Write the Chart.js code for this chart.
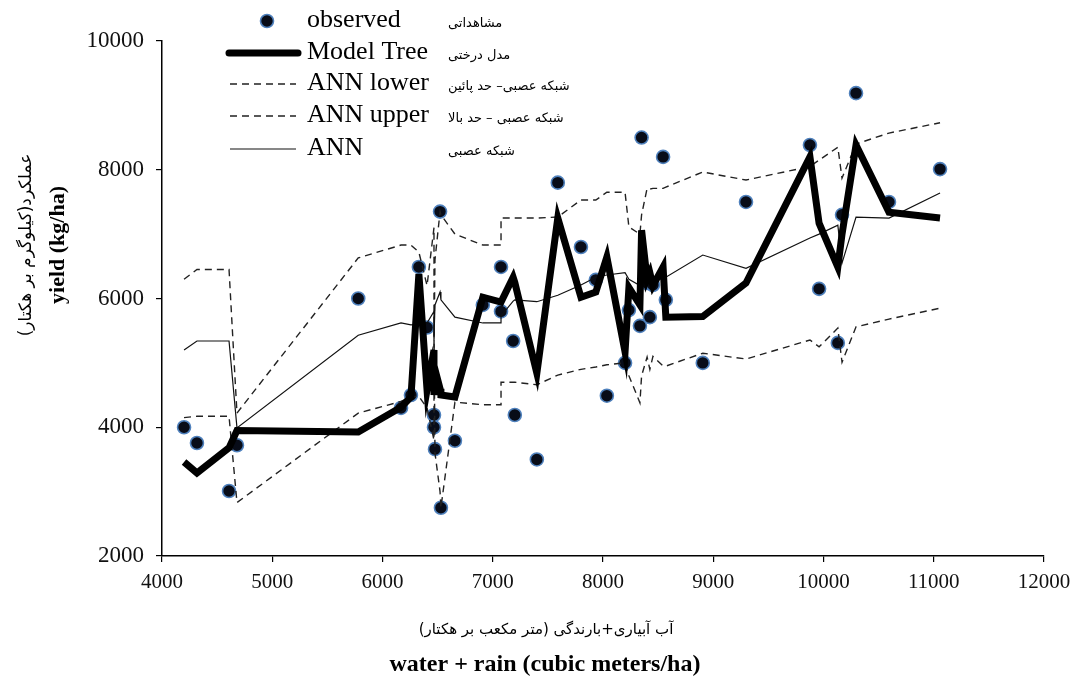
<!DOCTYPE html>
<html>
<head>
<meta charset="utf-8">
<script src="https://cdn.jsdelivr.net/npm/chart.js@4.4.1/dist/chart.umd.min.js"></script>
<style>
  html, body { margin: 0; padding: 0; background: #fff; }
  #wrap { width: 1085px; height: 684px; position: relative; }
</style>
</head>
<body>
<div id="wrap"><canvas id="chart"></canvas></div>
<script>
// observed yield against water + rain
const obsX = [4200, 4317, 4608, 4680, 5780, 6168, 6258, 6330, 6404, 6467, 6467, 6476, 6530, 6522,
  6657, 6910, 7075, 7075, 7185, 7200, 7400, 7590, 7800, 7935, 8035, 8200, 8235, 8335, 8350,
  8400, 8425, 8453, 8545, 8570, 8905, 9297, 9877, 9960, 10130, 10168, 10295, 10594, 11057];
const obsY = [4000, 3755, 3010, 3720, 6000, 4300, 4500, 6490, 5550, 4190, 4000, 3660, 2750, 7350,
  3790, 5900, 6490, 5800, 5340, 4190, 3500, 7800, 6800, 6290, 4490, 5000, 5820, 5575, 8500,
  6240, 5710, 6210, 8200, 5980, 5000, 7500, 8385, 6150, 5310, 7300, 9190, 7500, 8010];

// model predictions at the (sorted) observation points
const lineX = [4200, 4317, 4608, 4680, 5780, 6168, 6258, 6330, 6404, 6467, 6467, 6476, 6522, 6530,
  6657, 6910, 7075, 7075, 7185, 7200, 7400, 7590, 7800, 7935, 8035, 8200, 8235, 8335, 8350,
  8400, 8425, 8453, 8545, 8570, 8905, 9297, 9877, 9960, 10130, 10168, 10295, 10594, 11057];
const modelTree = [3460, 3290, 3680, 3950, 3926, 4310, 4470, 6380, 4580, 5200, 4500, 4900, 4600, 4500,
  4470, 6020, 5945, 5945, 6330, 6250, 4840, 7250, 6020, 6100, 6645, 5170, 6170, 5900, 7060,
  6300, 6400, 6200, 6490, 5710, 5720, 6240, 8200, 7170, 6490, 7000, 8385, 7340, 7250];
const annMid = [5200, 5340, 5340, 3990, 5430, 5620, 5590, 5600, 5620, 5800, 5400, 5900, 6100, 5980,
  5710, 5620, 5620, 5730, 5960, 5980, 5950, 6050, 6210, 6330, 6365, 6400, 6300, 6200, 6450,
  6350, 6400, 6300, 6330, 6330, 6675, 6470, 6940, 7000, 7140, 6550, 7265, 7250, 7640];
const annLower = [4150, 4170, 4170, 2830, 4220, 4400, 4470, 4480, 4300, 3800, 5600, 3600, 3000, 2750,
  4390, 4350, 4350, 4700, 4700, 4700, 4660, 4810, 4900, 4935, 4970, 5000, 4800, 4380, 4800,
  5090, 4900, 5100, 4950, 4950, 5150, 5060, 5355, 5250, 5540, 5010, 5560, 5680, 5850];
const annUpper = [6300, 6450, 6450, 4220, 6630, 6830, 6830, 6720, 6200, 7100, 5200, 6600, 7350, 7300,
  7000, 6830, 6830, 7250, 7250, 7250, 7250, 7265, 7530, 7530, 7650, 7650, 7110, 7000, 7300,
  7710, 7700, 7710, 7710, 7730, 7965, 7840, 8050, 8150, 8350, 7870, 8400, 8570, 8730];

const xRange = [4000, 12000, 1000];
const yRange = [2000, 10000, 2000];

const legendItems = [
  { en: "observed", fa: "مشاهداتی", y: 20 },
  { en: "Model Tree", fa: "مدل درختی", y: 52 },
  { en: "ANN lower", fa: "شبکه عصبی– حد پائین", y: 83 },
  { en: "ANN upper", fa: "شبکه عصبی – حد بالا", y: 115 },
  { en: "ANN", fa: "شبکه عصبی", y: 148 },
];

const serif = "'Liberation Serif', 'Times New Roman', serif";
const faFont = "'DejaVu Sans', sans-serif";

function pts(xs, ys) {
  return xs.map((x, i) => ({ x: x, y: ys[i] }));
}

// legend + axis titles drawn by hand (two languages, mixed weights)
const annotate = {
  id: "annotate",
  afterDraw(chart) {
    const ctx = chart.ctx;
    const ds = chart.data.datasets;
    ctx.save();

    // y axis titles
    ctx.fillStyle = "#000";
    ctx.textAlign = "center";
    ctx.textBaseline = "middle";
    ctx.save();
    ctx.translate(27, 245);
    ctx.rotate(-Math.PI / 2);
    ctx.font = "17px " + faFont;
    ctx.fillText("عملکرد(کیلوگرم بر هکتار)", 0, 0);
    ctx.restore();
    ctx.save();
    ctx.translate(58, 245);
    ctx.rotate(-Math.PI / 2);
    ctx.font = "bold 22px " + serif;
    ctx.fillText("yield (kg/ha)", 0, 0);
    ctx.restore();

    // x axis titles
    ctx.font = "15px " + faFont;
    ctx.fillText("آب آبیاری+بارندگی (متر مکعب بر هکتار)", 546, 630);
    ctx.font = "bold 24px " + serif;
    ctx.fillText("water + rain (cubic meters/ha)", 545, 665);

    // legend
    legendItems.forEach((item, i) => {
      const d = ds[i];
      ctx.save();
      if (i === 0) {
        ctx.beginPath();
        ctx.arc(267, item.y + 1, d.pointRadius, 0, Math.PI * 2);
        ctx.fillStyle = d.backgroundColor;
        ctx.fill();
        ctx.lineWidth = d.borderWidth;
        ctx.strokeStyle = d.borderColor;
        ctx.stroke();
      } else {
        ctx.beginPath();
        ctx.strokeStyle = d.borderColor;
        ctx.lineWidth = d.borderWidth;
        ctx.setLineDash(d.borderDash || []);
        ctx.lineCap = i === 1 ? "round" : "butt";
        ctx.moveTo(i === 1 ? 229 : 230, item.y + 1);
        ctx.lineTo(i === 1 ? 298 : 296, item.y + 1);
        ctx.stroke();
      }
      ctx.restore();
      ctx.fillStyle = "#000";
      ctx.textAlign = "left";
      ctx.textBaseline = "middle";
      ctx.font = "26px " + serif;
      ctx.fillText(item.en, 307, item.y);
      ctx.font = "13px " + faFont;
      ctx.fillText(item.fa, 448, item.y + 4);
    });

    ctx.restore();
  },
};

new Chart(document.getElementById("chart"), {
  type: "scatter",
  data: {
    datasets: [
      {
        label: "observed",
        data: pts(obsX, obsY),
        pointRadius: 6.5,
        pointHoverRadius: 6.5,
        backgroundColor: "#080c18",
        borderColor: "#4f81bd",
        borderWidth: 1.6,
        showLine: false,
        order: 10,
      },
      {
        label: "Model Tree",
        data: pts(lineX, modelTree),
        showLine: true,
        borderColor: "#000",
        borderWidth: 7,
        pointRadius: 0,
        tension: 0,
        order: 1,
      },
      {
        label: "ANN lower",
        data: pts(lineX, annLower),
        showLine: true,
        borderColor: "#222",
        borderWidth: 1.4,
        borderDash: [7, 5],
        pointRadius: 0,
        tension: 0,
        order: 3,
      },
      {
        label: "ANN upper",
        data: pts(lineX, annUpper),
        showLine: true,
        borderColor: "#222",
        borderWidth: 1.4,
        borderDash: [7, 5],
        pointRadius: 0,
        tension: 0,
        order: 3,
      },
      {
        label: "ANN",
        data: pts(lineX, annMid),
        showLine: true,
        borderColor: "#111",
        borderWidth: 1.2,
        pointRadius: 0,
        tension: 0,
        order: 2,
      },
    ],
  },
  options: {
    responsive: true,
    maintainAspectRatio: false,
    animation: false,
    layout: { padding: { top: 41, right: 41, left: 0, bottom: 0 } },
    plugins: {
      legend: { display: false },
      tooltip: { enabled: false },
    },
    scales: {
      x: {
        type: "linear",
        min: xRange[0],
        max: xRange[1],
        afterFit: (scale) => { scale.height = 128; },
        ticks: {
          stepSize: xRange[2],
          color: "#111",
          padding: 8,
          font: { family: serif, size: 21 },
          callback: (v) => String(v),
        },
        grid: { drawOnChartArea: false, tickLength: 6, color: "#000", lineWidth: 1.2 },
        border: { color: "#000", width: 1.5 },
      },
      y: {
        type: "linear",
        min: yRange[0],
        max: yRange[1],
        afterFit: (scale) => { scale.width = 162; },
        ticks: {
          stepSize: yRange[2],
          color: "#111",
          padding: 12,
          font: { family: serif, size: 23 },
          callback: (v) => String(v),
        },
        grid: { drawOnChartArea: false, tickLength: 6, color: "#000", lineWidth: 1.2 },
        border: { color: "#000", width: 1.5 },
      },
    },
  },
  plugins: [annotate],
});
</script>
</body>
</html>
